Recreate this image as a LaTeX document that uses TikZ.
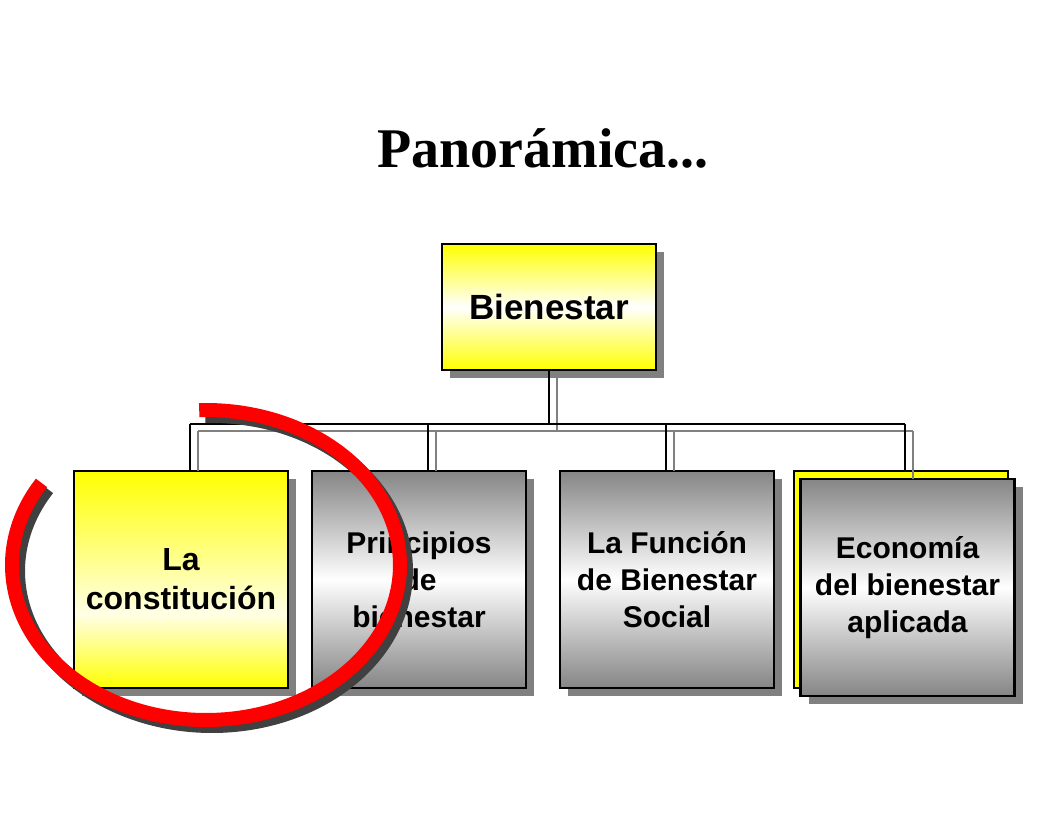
\documentclass[tikz,border=0pt]{standalone}
\usepackage{fontspec}
\setmainfont{Liberation Serif}
\newfontfamily\arialfont{Liberation Sans}
\usetikzlibrary{shadows}
\definecolor{shgray}{HTML}{808080}
\definecolor{boxgray}{HTML}{858585}
\definecolor{ylw}{HTML}{FFFF00}
\definecolor{paleylw}{HTML}{FFFFE6}
\definecolor{ringred}{HTML}{FF0000}
\definecolor{ringshadow}{HTML}{404040}
\pgfdeclareverticalshading{lowlightyellow}{100bp}{color(0bp)=(ylw); color(25bp)=(ylw); color(42bp)=(paleylw); color(75bp)=(ylw); color(100bp)=(ylw)}
\begin{document}
\begin{tikzpicture}[x=1pt,y=-1pt,
  every node/.style={inner sep=0pt, outer sep=0pt},
  shadowed/.style={general shadow={fill=shgray, shadow xshift=8pt, shadow yshift=-8pt}},
  card/.style={shadowed, draw=black, line width=2.2pt, minimum width=214pt, minimum height=217pt,
    align=center, font=\arialfont\bfseries\fontsize{30}{37}\selectfont},
  graycard/.style={card, top color=boxgray, bottom color=boxgray, middle color=white},
  yellowcard/.style={card, shading=lowlightyellow},
  blackline/.style={line width=2pt, black},
  grayline/.style={line width=2pt, shgray},
  ring/.style={line width=14pt, line cap=butt}
]
\useasboundingbox (0,0) rectangle (1056,816);
\fill[white] (0,0) rectangle (1056,816);

% title
\node (title) [font=\bfseries\fontsize{56}{60}\selectfont, anchor=base] at (543,167) {Panorámica...};

% gray tree
\coordinate (g0) at (557,378);
\coordinate (gt) at (557,431);
\coordinate (g1) at (198,431);
\coordinate (g2) at (436,431);
\coordinate (g3) at (674,431);
\coordinate (g4) at (913,431);
% black tree
\coordinate (k0) at (549,370);
\coordinate (kt) at (549,424);
\coordinate (k1) at (190,424);
\coordinate (k2) at (428,424);
\coordinate (k3) at (666,424);
\coordinate (k4) at (905,424);

% top box
\node (b) [card, minimum height=126pt, top color=ylw, bottom color=ylw, middle color=white,
  font=\arialfont\bfseries\fontsize{35}{40}\selectfont] at (549,307) {Bienestar};

% child boxes
\node (c1) [yellowcard, font=\arialfont\bfseries\fontsize{32}{39}\selectfont] at (181,579.5) {La\\constitución};
\node (c2) [graycard] at (419,579.5) {Principios\\de\\bienestar};
\node (c3) [graycard] at (667,579.5) {La Función\\de Bienestar\\Social};
\node (c4b) [card, fill=ylw] at (901,579.5) {};
\node (c4) [graycard] at (907.5,587.5) {Economía\\del bienestar\\aplicada};

% connectors: gray
\draw[grayline] (g0) -- (gt);
\draw[grayline] (g1) -- (g4);
\draw[grayline] (g1) -- (g1 |- c1.north);
\draw[grayline] (g2) -- (g2 |- c2.north);
\draw[grayline] (g3) -- (g3 |- c3.north);
\draw[grayline] (g4) -- (g4 |- c4.north);
% connectors: black
\draw[blackline] (k0) -- (kt);
\draw[blackline] (k1) -- (k4);
\draw[blackline] (k1) -- (k1 |- c1.north);
\draw[blackline] (k2) -- (k2 |- c2.north);
\draw[blackline] (k3) -- (k3 |- c3.north);
\draw[blackline] (k4) -- (k4 |- c4b.north);

% red ring with shadow
\draw[ring, ringshadow] plot[domain=268:572, samples=120, smooth] ({212+194*cos(\x)},{571+155*sin(\x)});
\draw[ring, ringred] plot[domain=268:572, samples=120, smooth] ({206+194*cos(\x)},{565+155*sin(\x)});
\end{tikzpicture}
\end{document}
